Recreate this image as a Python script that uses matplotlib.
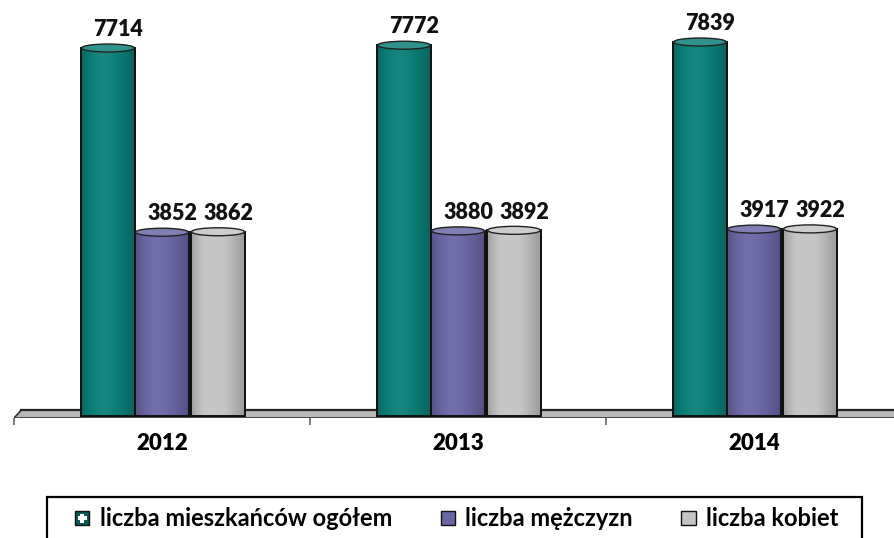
import numpy as np
import matplotlib
matplotlib.use("Agg")
import matplotlib.pyplot as plt
from matplotlib.patches import Ellipse, Polygon, Rectangle, Patch
from matplotlib.legend_handler import HandlerBase
import matplotlib.colors as mcolors

years = ["2012", "2013", "2014"]
series_names = ["liczba mieszkańców ogółem", "liczba mężczyzn", "liczba kobiet"]
total = [7714, 7772, 7839]
men = [3852, 3880, 3917]
women = [3862, 3892, 3922]
series = [total, men, women]
colors = ["#0b7f78", "#6b67a5", "#c4c4c4"]

plt.rcParams['font.family'] = ['Lato', 'DejaVu Sans']

W, H = 895, 538
fig = plt.figure(figsize=(W / 100, H / 100), dpi=100)
# axes: x pixels 14..902, y pixels 0..418
ax = fig.add_axes([14 / W, (H - 418) / H, 888 / W, 418 / H])
px_per_unit = 368 / 7714.0
ymin = -2 / px_per_unit
ymax = 416 / px_per_unit
ax.set_xlim(-0.5, 2.5)
ax.set_ylim(ymin, ymax)
for s in ax.spines.values():
    s.set_visible(False)
ax.set_yticks([])

# floor slab
fy_top = 6 / px_per_unit
fy_bot = -2 / px_per_unit
floor = Polygon([(-0.5, fy_bot), (-0.475, fy_top), (2.5, fy_top), (2.5, fy_bot)],
                closed=True, facecolor="#b8b8b8", edgecolor="#333333", lw=1.2, zorder=1)
ax.add_patch(floor)
ax.plot([-0.475, 2.5], [fy_top, fy_top], color="#222222", lw=1.6, zorder=1.1)

bw = 54 / 296.0
offsets = [-bw, 0, bw + 2 / 296.0]
x = np.arange(len(years))

def shade(c, f):
    r, g, b = mcolors.to_rgb(c)
    if f >= 1:
        return tuple(min(1, v + (1 - v) * (f - 1)) for v in (r, g, b))
    return (r * f, g * f, b * f)

cap_h = 8 / px_per_unit
for i, (vals, col) in enumerate(zip(series, colors)):
    bars = ax.bar(x + offsets[i], vals, width=bw, color=col, edgecolor="#111111",
                  lw=1.2, zorder=3)
    t = np.linspace(0, 1, 64)
    prof = 0.78 + 0.27 * np.sin(np.pi * (t ** 0.8))
    grad = np.array([shade(col, f) for f in prof])[None, :, :]
    for b in bars:
        x0, w_, h_ = b.get_x(), b.get_width(), b.get_height()
        im = ax.imshow(grad, extent=(x0, x0 + w_, 0, h_), aspect="auto",
                       zorder=3.1, interpolation="bilinear")
        im.set_clip_path(b)
        ax.add_patch(Rectangle((x0, 0), w_, h_, fill=False, edgecolor="#111111",
                               lw=1.4, zorder=3.2))
        e = Ellipse((x0 + w_ / 2, h_), w_ * 0.98, cap_h, facecolor=shade(col, 1.15),
                    edgecolor="#222222", lw=1.0, zorder=3.3)
        ax.add_patch(e)
        ax.text(x0 + w_ / 2 + 0.035, h_ + cap_h * 0.6 + 3 / px_per_unit,
                f"{h_:.0f}", ha="center", va="bottom", fontsize=15.5,
                fontweight="heavy", color="#111111", zorder=5)

# ticks
ax.set_xticks([-0.5, 0.5, 1.5, 2.5])
ax.set_xticklabels([])
ax.tick_params(axis="x", which="major", length=5, width=1.2, color="#666666", direction="out")
ax.set_xticks(x, minor=True)
ax.set_xticklabels(years, minor=True, fontsize=16, fontweight="heavy")
ax.tick_params(axis="x", which="minor", length=0, pad=10.5)

# legend
class HandlerPlus(HandlerBase):
    def create_artists(self, legend, orig_handle, xd, yd, width, height, fontsize, trans):
        s = min(width, height)
        x0 = -xd + (width - s) / 2
        y0 = -yd + (height - s) / 2
        r = Rectangle((x0, y0), s, s, facecolor=orig_handle.get_facecolor(),
                      edgecolor="#111111", lw=1.0, transform=trans)
        arts = [r]
        if getattr(orig_handle, "_plus", False):
            cx, cy = x0 + s / 2, y0 + s / 2
            a = s * 0.24
            L = s * 0.32
            arts.append(Rectangle((cx - L, cy - a / 2), 2 * L, a, facecolor="white",
                                  edgecolor="none", transform=trans))
            arts.append(Rectangle((cx - a / 2, cy - L), a, 2 * L, facecolor="white",
                                  edgecolor="none", transform=trans))
        return arts

handles = []
for i, col in enumerate(colors):
    p = Patch(facecolor=("#0a5a55" if i == 0 else col), edgecolor="#111111")
    p._plus = (i == 0)
    handles.append(p)

leg = fig.legend(handles, series_names, loc="center left",
                 bbox_to_anchor=(75 / W, (H - 519) / H), ncol=3, frameon=False,
                 prop={"size": 17, "weight": "bold"},
                 handler_map={Patch: HandlerPlus()}, handlelength=0.6, handleheight=0.6,
                 handletextpad=0.45, columnspacing=2.05, borderpad=0,
                 borderaxespad=0)
fig.patches.append(Rectangle((47 / W, -0.05), (862 - 47) / W, 0.05 + (H - 497) / H,
                             transform=fig.transFigure, fill=False, edgecolor="#000000",
                             lw=1.6))

fig.savefig("out.png", dpi=100)
